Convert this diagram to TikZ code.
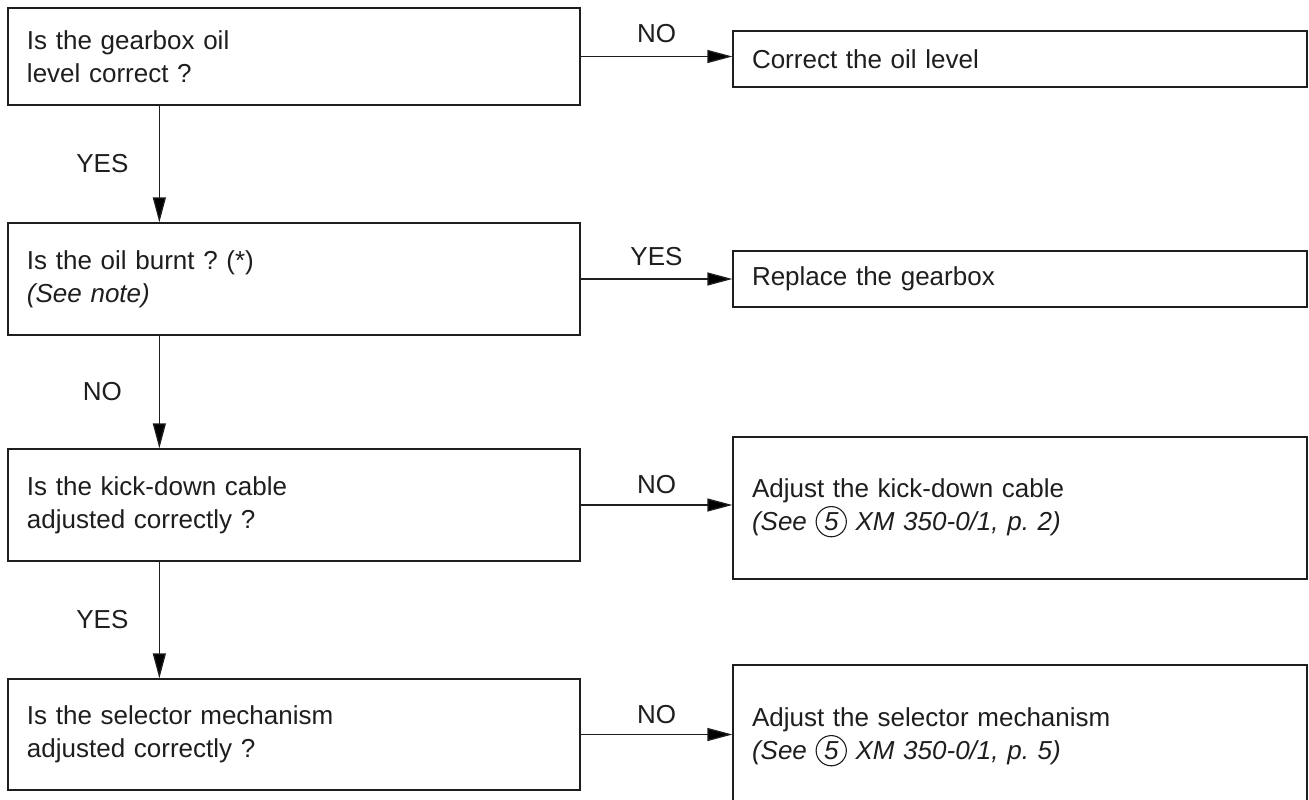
\documentclass[tikz,border=0pt]{standalone}
\usepackage{fontspec}
\setmainfont{Liberation Sans}
\usetikzlibrary{arrows.meta}
\frenchspacing
\definecolor{ink}{RGB}{30,30,30}
\newcommand\circfive{\tikz[baseline=(c.base)]\node[draw=ink,circle,line width=1.1pt,inner sep=2.5pt,minimum size=0pt,text width={},align=center,font=\itshape](c){5};}
\tikzset{
  basebox/.style={draw=ink, line width=1.3pt, rectangle, align=left, inner xsep=19pt, inner ysep=0pt,
    font=\fontsize{26}{33}\selectfont, text=ink},
  lbox/.style={basebox, minimum width=572pt, text width=534pt},
  rbox/.style={basebox, minimum width=574pt, text width=536pt},
  arr/.style={draw=ink, line width=1.3pt, -{Triangle[length=25pt,width=13pt]}},
  lab/.style={font=\fontsize{26}{33}\selectfont, text=ink, inner sep=0pt}
}
\begin{document}
\begin{tikzpicture}[x=1pt,y=-1pt]
\useasboundingbox (0,0) rectangle (1309,800);
\fill[white] (0,0) rectangle (1309,800);
% questions
\node[lbox, minimum height=97pt]  (q1) at (294,56.5) {Is the gearbox oil\\level correct ?};
\node[lbox, minimum height=112pt] (q2) at (294,279)  {Is the oil burnt ? (*)\\\textit{(See note)}};
\node[lbox, minimum height=112pt] (q3) at (294,505)  {Is the kick-down cable\\adjusted correctly ?};
\node[lbox, minimum height=111pt] (q4) at (294,734.5) {Is the selector mechanism\\adjusted correctly ?};
% actions
\node[rbox, minimum height=56pt]  (a1) at (1020,59)  {Correct the oil level};
\node[rbox, minimum height=56pt]  (a2) at (1020,279) {Replace the gearbox};
\node[rbox, minimum height=142pt] (a3) at (1020,508) {Adjust the kick-down cable\\\textit{(See \circfive\ XM 350-0/1, p. 2)}};
\node[rbox, minimum height=144pt] (a4) at (1020,737) {Adjust the selector mechanism\\\textit{(See \circfive\ XM 350-0/1, p. 5)}};
% vertical flow
\draw[arr] ([xshift=152pt]q1.south west) -- node[lab, xshift=-57pt]{YES} ([xshift=152pt]q2.north west);
\draw[arr] ([xshift=152pt]q2.south west) -- node[lab, xshift=-57pt]{NO}  ([xshift=152pt]q3.north west);
\draw[arr] ([xshift=152pt]q3.south west) -- node[lab, xshift=-57pt]{YES} ([xshift=152pt]q4.north west);
% horizontal branches
\draw[arr] (q1.east) -- node[lab, yshift=23pt]{NO}  (q1.east -| a1.west);
\draw[arr] (q2.east) -- node[lab, yshift=22pt]{YES} (q2.east -| a2.west);
\draw[arr] (q3.east) -- node[lab, yshift=20pt]{NO}  (q3.east -| a3.west);
\draw[arr] (q4.east) -- node[lab, yshift=20pt]{NO}  (q4.east -| a4.west);
\end{tikzpicture}
\end{document}
